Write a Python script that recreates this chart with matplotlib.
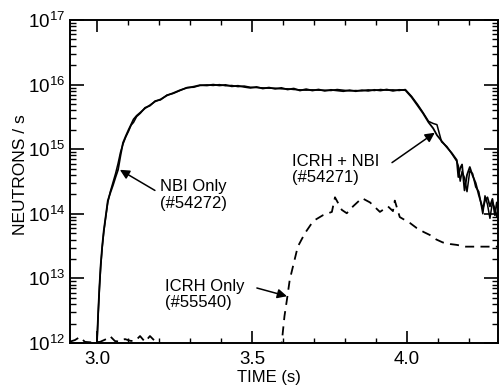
import matplotlib
matplotlib.use("Agg")
import matplotlib.pyplot as plt
from matplotlib.ticker import MultipleLocator, LogLocator, NullFormatter

plt.rcParams['font.family'] = ['Liberation Sans', 'DejaVu Sans']
plt.rcParams['mathtext.fontset'] = 'custom'
plt.rcParams['mathtext.rm'] = 'Liberation Sans'
plt.rcParams['mathtext.it'] = 'Liberation Sans:italic'
plt.rcParams['mathtext.bf'] = 'Liberation Sans:bold'

# time base shared by the two solid traces (s)
beam_time = [2.998, 3.000, 3.004, 3.008, 3.012, 3.017, 3.022, 3.028, 3.035, 3.043,
             3.052, 3.060, 3.068, 3.076, 3.084, 3.093, 3.102, 3.110, 3.118, 3.128,
             3.140, 3.155, 3.171, 3.188, 3.205, 3.226, 3.246, 3.268, 3.290, 3.312,
             3.332, 3.355, 3.375, 3.395, 3.415, 3.435, 3.455, 3.475, 3.495, 3.515,
             3.535, 3.555, 3.575, 3.595, 3.615, 3.635, 3.655, 3.675, 3.695, 3.715,
             3.735, 3.755, 3.775, 3.795, 3.815, 3.835, 3.855, 3.875, 3.895, 3.915,
             3.935, 3.955, 3.975, 3.995, 4.015, 4.035, 4.052, 4.070, 4.085, 4.097,
             4.112, 4.129, 4.145, 4.161, 4.166, 4.172, 4.178, 4.186, 4.194, 4.203,
             4.212, 4.222, 4.232, 4.245, 4.252, 4.260, 4.268, 4.276, 4.284, 4.290,
             4.296]

# NBI only (#54272), neutrons / s
nbi_only = [5e11, 1.0e12, 3.0e12, 7.5e12, 1.6e13, 3.2e13, 5.5e13, 9.0e13, 1.6e14, 2.1e14,
            2.8e14, 3.7e14, 4.8e14, 8.0e14, 1.26e15, 1.6e15, 2.0e15, 2.4e15, 2.9e15, 3.3e15,
            3.7e15, 4.3e15, 4.8e15, 5.5e15, 5.9e15, 6.8e15, 7.4e15, 8.2e15, 8.9e15, 9.3e15,
            9.8e15, 9.7e15, 1.0e16, 9.7e15, 9.9e15, 9.4e15, 9.6e15, 9.2e15, 8.9e15, 9.2e15,
            8.7e15, 9.0e15, 8.6e15, 8.9e15, 8.4e15, 8.7e15, 8.1e15, 8.5e15, 8.1e15, 8.4e15,
            8.0e15, 8.3e15, 8.1e15, 7.9e15, 8.2e15, 7.9e15, 8.2e15, 8.0e15, 8.3e15, 8.1e15,
            8.4e15, 8.0e15, 8.3e15, 8.2e15, 6.4e15, 4.7e15, 3.6e15, 2.6e15, 2.1e15, 1.65e15,
            1.34e15, 1.07e15, 8.7e14, 6.8e14, 3.7e14, 5.1e14, 5.8e14, 2.3e14, 4.0e14, 5.3e14,
            3.9e14, 3.0e14, 1.95e14, 1.2e14, 1.6e14, 1.8e14, 1.3e14, 1.7e14, 9.5e13, 1.5e14,
            1.1e14]

# ICRH + NBI (#54271), neutrons / s
icrh_nbi = [5e11, 1.0e12, 2.8e12, 7.0e12, 1.5e13, 3.0e13, 5.2e13, 8.6e13, 1.5e14, 2.2e14,
            3.1e14, 4.2e14, 6.0e14, 9.0e14, 1.2e15, 1.55e15, 1.9e15, 2.35e15, 2.6e15, 3.2e15,
            3.6e15, 4.4e15, 4.7e15, 5.6e15, 5.8e15, 6.9e15, 7.3e15, 8.1e15, 9.0e15, 9.1e15,
            9.7e15, 9.9e15, 9.7e15, 1.0e16, 9.6e15, 9.7e15, 9.3e15, 9.5e15, 9.1e15, 9.0e15,
            8.9e15, 8.8e15, 8.8e15, 8.6e15, 8.6e15, 8.4e15, 8.3e15, 8.2e15, 8.3e15, 8.2e15,
            8.2e15, 8.1e15, 8.4e15, 8.2e15, 8.0e15, 8.1e15, 8.0e15, 8.3e15, 8.1e15, 8.4e15,
            8.2e15, 8.3e15, 8.1e15, 8.4e15, 6.6e15, 4.9e15, 3.7e15, 2.7e15, 2.5e15, 2.4e15,
            1.3e15, 1.1e15, 8.5e14, 6.5e14, 5.5e14, 3.2e14, 4.5e14, 3.6e14, 2.2e14, 4.6e14,
            4.2e14, 2.6e14, 2.2e14, 1.0e14, 1.9e14, 1.4e14, 8.5e13, 1.5e14, 1.2e14, 9.0e13,
            1.3e14]

# ICRH only (#55540)
icrh_time = [2.913, 2.929, 2.945, 2.961, 2.985, 3.010, 3.030, 3.042, 3.058, 3.075,
             3.090, 3.108, 3.123, 3.139, 3.155, 3.171, 3.187, 3.203, 3.215, 3.590,
             3.597, 3.605, 3.613, 3.622, 3.632, 3.648, 3.671, 3.690, 3.703, 3.729,
             3.758, 3.768, 3.790, 3.806, 3.826, 3.855, 3.881, 3.913, 3.939, 3.955,
             3.961, 3.977, 4.010, 4.032, 4.055, 4.074, 4.095, 4.116, 4.140, 4.161,
             4.190, 4.226, 4.260, 4.296]
icrh_only = [1.05e12, 1.11e12, 1.24e12, 1.04e12, 1.02e12, 1.04e12, 1.15e12, 1.28e12, 1.07e12, 1.05e12,
             1.15e12, 1.08e12, 1.07e12, 1.28e12, 1.04e12, 1.28e12, 1.07e12, 1.0e12, 6e11, 6e11,
             1.1e12, 2.6e12, 4.7e12, 9.5e12, 1.5e13, 3.1e13, 5.0e13, 6.8e13, 8.0e13, 9.5e13,
             1.07e14, 1.8e14, 1.15e14, 1.02e14, 1.3e14, 1.75e14, 1.5e14, 1.07e14, 1.3e14, 1.1e14,
             1.6e14, 8.9e13, 7.2e13, 6.0e13, 5.2e13, 4.7e13, 4.0e13, 3.6e13, 3.4e13, 3.3e13,
             3.1e13, 3.1e13, 3.1e13, 3.1e13]

fig = plt.figure(figsize=(5, 3.91), dpi=100)
ax = fig.add_axes([0.14, 0.1228, 0.856, 0.826])

ax.plot(beam_time, nbi_only, color='black', lw=1.3)
ax.plot(beam_time, icrh_nbi, color='black', lw=1.1)
ax.plot(icrh_time, icrh_only, color='black', lw=1.3, linestyle=(0, (5, 3.5)))

ax.set_yscale('log')
ax.set_xlim(2.913, 4.294)
ax.set_ylim(1e12, 1e17)

ax.xaxis.set_major_locator(MultipleLocator(0.5))
ax.xaxis.set_minor_locator(MultipleLocator(0.1))
ax.xaxis.set_major_formatter(plt.FormatStrFormatter('%.1f'))
ax.yaxis.set_major_locator(LogLocator(base=10, numticks=10))
ax.yaxis.set_minor_locator(LogLocator(base=10, subs=range(2, 10), numticks=50))
ax.yaxis.set_minor_formatter(NullFormatter())

ax.tick_params(which='both', direction='in', top=True, right=True, labelsize=13.5)
ax.tick_params(axis='x', which='major', length=8.5, width=1.2, pad=6)
ax.tick_params(axis='x', which='minor', length=3.5, width=1.0)
ax.tick_params(axis='y', which='major', length=10, width=1.2, pad=3.5)
ax.tick_params(axis='y', which='minor', length=4, width=1.0)
for s in ax.spines.values():
    s.set_linewidth(1.4)

ax.set_xlabel('TIME (s)', fontsize=12)
ax.set_ylabel('NEUTRONS / s', fontsize=12.5)
ax.xaxis.set_label_coords(0.465, -0.084)
ax.yaxis.set_label_coords(-0.098, 0.52)

arrow = dict(arrowstyle='-|>', color='black', lw=1.1, mutation_scale=14,
             shrinkA=0, shrinkB=0)
ax.annotate('', xy=(3.074, 4.8e14), xytext=(3.187, 2.3e14), arrowprops=arrow)
ax.text(3.203, 1.95e14, 'NBI Only\n(#54272)', fontsize=12, ha='left', va='center',
        linespacing=1.1)

ax.annotate('', xy=(4.090, 1.8e15), xytext=(3.952, 6.2e14), arrowprops=arrow)
ax.text(3.629, 4.9e14, 'ICRH + NBI\n(#54271)', fontsize=12, ha='left', va='center',
        linespacing=1.1)

ax.annotate('', xy=(3.613, 5.3e12), xytext=(3.516, 7.1e12), arrowprops=arrow)
ax.text(3.219, 5.7e12, 'ICRH Only\n(#55540)', fontsize=12, ha='left', va='center',
        linespacing=1.1)

fig.savefig('out.png', dpi=100)
